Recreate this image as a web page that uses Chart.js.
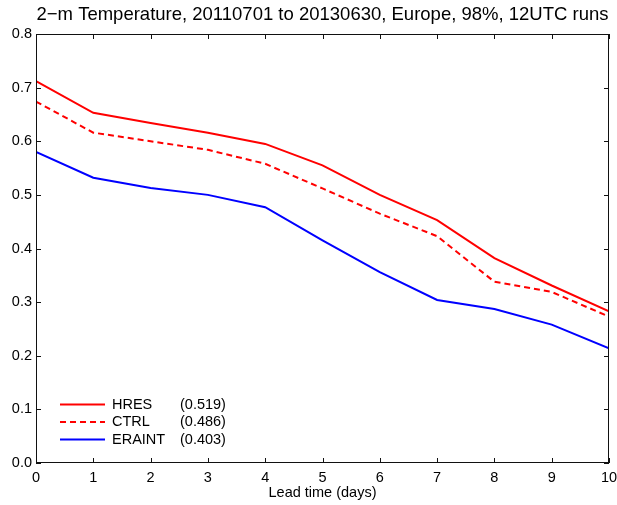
<!DOCTYPE html>
<html lang="en">
<head>
    <meta charset="UTF-8">
    <title>2-m Temperature scores</title>
    <script src="https://cdn.jsdelivr.net/npm/chart.js"></script>
    <style>
        html, body { margin: 0; padding: 0; background: #fff; }
        #wrap { width: 617px; height: 505px; }
    </style>
</head>
<body>
<div id="wrap"><canvas id="myChart"></canvas></div>
<script>
    // values
    const leadDays = [0, 1, 2, 3, 4, 5, 6, 7, 8, 9, 10];
    const hres   = [0.712, 0.653, 0.634, 0.616, 0.595, 0.555, 0.500, 0.453, 0.382, 0.331, 0.283];
    const ctrl   = [0.674, 0.616, 0.600, 0.584, 0.558, 0.512, 0.465, 0.423, 0.338, 0.319, 0.273];
    const eraint = [0.580, 0.532, 0.513, 0.500, 0.477, 0.415, 0.356, 0.304, 0.287, 0.258, 0.214];
    const seriesNames = ['HRES', 'CTRL', 'ERAINT'];
    const seriesScores = ['(0.519)', '(0.486)', '(0.403)'];
    const chartTitle = '2\u2212m Temperature, 20110701 to 20130630, Europe, 98%, 12UTC runs';

    const FONT = 'Liberation Sans, Arial, sans-serif';

    function toPoints(vals) {
        return leadDays.map((d, i) => ({ x: d, y: vals[i] }));
    }

    // box round the plot with inward ticks on all four sides
    const boxAxes = {
        id: 'boxAxes',
        afterDraw(chart) {
            const ctx = chart.ctx;
            const a = chart.chartArea;
            const xs = chart.scales.x, ys = chart.scales.y;
            const len = 5;
            ctx.save();
            ctx.strokeStyle = '#111';
            ctx.lineWidth = 1;
            ctx.strokeRect(a.left + 0.5, a.top + 0.5, a.right - a.left - 1, a.bottom - a.top - 1);
            ctx.beginPath();
            xs.ticks.forEach(t => {
                const px = Math.round(xs.getPixelForValue(t.value)) + 0.5;
                ctx.moveTo(px, a.bottom); ctx.lineTo(px, a.bottom - len);
                ctx.moveTo(px, a.top); ctx.lineTo(px, a.top + len);
            });
            ys.ticks.forEach(t => {
                const py = Math.round(ys.getPixelForValue(t.value)) + 0.5;
                ctx.moveTo(a.left, py); ctx.lineTo(a.left + len, py);
                ctx.moveTo(a.right, py); ctx.lineTo(a.right - len, py);
            });
            ctx.stroke();

            // title
            ctx.fillStyle = '#000';
            ctx.font = '18.5px ' + FONT;
            ctx.textAlign = 'center';
            ctx.textBaseline = 'middle';
            ctx.fillText(chartTitle, (a.left + a.right) / 2, 15);

            // legend in the lower left corner
            ctx.font = '14.5px ' + FONT;
            ctx.textAlign = 'left';
            chart.data.datasets.forEach((ds, i) => {
                const y = 404.5 + i * 17.5;
                ctx.beginPath();
                ctx.strokeStyle = ds.borderColor;
                ctx.lineWidth = 2;
                ctx.setLineDash(ds.borderDash || []);
                ctx.moveTo(60, y); ctx.lineTo(105, y);
                ctx.stroke();
                ctx.setLineDash([]);
                ctx.fillStyle = '#000';
                ctx.fillText(seriesNames[i], 112, y);
                ctx.fillText(seriesScores[i], 180, y);
            });
            ctx.restore();
        }
    };

    new Chart(document.getElementById('myChart'), {
        type: 'line',
        data: {
            datasets: [
                { label: seriesNames[0], data: toPoints(hres), borderColor: '#ff0000', borderWidth: 2 },
                { label: seriesNames[1], data: toPoints(ctrl), borderColor: '#ff0000', borderWidth: 2, borderDash: [6, 4] },
                { label: seriesNames[2], data: toPoints(eraint), borderColor: '#0000ff', borderWidth: 2 }
            ]
        },
        options: {
            responsive: true,
            maintainAspectRatio: false,
            animation: false,
            layout: { padding: { top: 34, right: 8, left: 0, bottom: 0 } },
            elements: { point: { radius: 0 }, line: { tension: 0 } },
            plugins: { legend: { display: false }, title: { display: false }, tooltip: { enabled: false } },
            scales: {
                x: {
                    type: 'linear',
                    min: 0, max: 10,
                    grid: { display: false, drawTicks: false },
                    border: { display: false },
                    ticks: { stepSize: 1, padding: 6, color: '#000', font: { family: FONT, size: 14.5 }, maxRotation: 0 },
                    title: { display: true, text: 'Lead time (days)', color: '#000', font: { family: FONT, size: 14.5 }, padding: { top: 0, bottom: 3 } },
                    afterFit(scale) {
                        scale.height = 42;
                        // let the "10" label hang into the layout padding
                        scale.paddingRight = 0;
                    }
                },
                y: {
                    min: 0, max: 0.8,
                    grid: { display: false, drawTicks: false },
                    border: { display: false },
                    ticks: { stepSize: 0.1, padding: 4, color: '#000', font: { family: FONT, size: 14.5 },
                             callback: v => v.toFixed(1) },
                    afterFit(scale) { scale.width = 36; }
                }
            }
        },
        plugins: [boxAxes]
    });
</script>
</body>
</html>
